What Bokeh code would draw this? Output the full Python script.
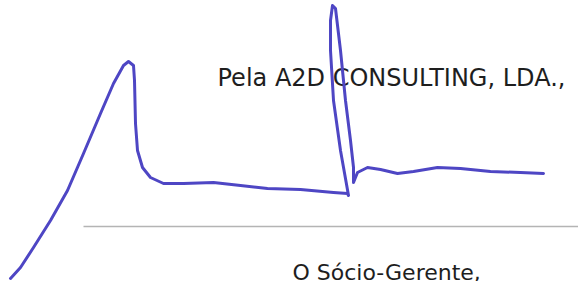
from bokeh.plotting import figure
from bokeh.models import Range1d, ColumnDataSource
from bokeh.core.properties import value
from bokeh.embed import file_html
from bokeh.resources import INLINE

# Signature stroke (reference pixel coordinates, y downwards)
sig_x = [10, 20, 33, 50, 67, 83, 100, 113, 123, 128, 133, 134, 135, 137, 142, 150, 163, 183,
         213, 240, 267, 300, 333, 347, 348,
         340, 333, 330, 330, 332, 335, 340, 345, 350, 353, 353,
         357, 367, 380, 397, 413, 437, 460, 490, 520, 543]
sig_y = [278, 267, 247, 220, 190, 153, 113, 83, 65, 61, 65, 80, 123, 150, 167, 177, 183, 183,
         182, 185, 188, 189, 192, 193, 195,
         150, 100, 50, 20, 5, 8, 50, 100, 140, 167, 182,
         172, 167, 169, 173, 171, 167, 168, 171, 172, 173]

# Signature rule line
rule_x = [83, 578]
rule_y = [226, 226]

# Texts
labels = ["Pela A2D CONSULTING, LDA.,", "O Sócio-Gerente,", "Alexandre José Vila Franca"]
label_x = [217, 292, 222]
label_y = [77, 272, 295]
label_size = ["24px", "22px", "22px"]

p = figure(width=578, height=281, output_backend="svg", toolbar_location=None,
           x_range=Range1d(0, 578), y_range=Range1d(281, 0), min_border=0)
p.axis.visible = False
p.grid.visible = False
p.outline_line_color = None
p.background_fill_color = "white"
p.border_fill_color = "white"

p.line(rule_x, rule_y, line_color="#b4b4b4", line_width=1.5)

src = ColumnDataSource(dict(x=label_x, y=label_y, t=labels, s=label_size))
p.text(x="x", y="y", text="t", source=src, text_font=value("DejaVu Sans"),
       text_font_size="s", text_color="#1e1e1e", text_baseline="alphabetic",
       text_align="left")

p.line(sig_x, sig_y, line_color="#4e46c4", line_width=3, line_join="round", line_cap="round")

open("out.html", "w").write(file_html(p, INLINE))
